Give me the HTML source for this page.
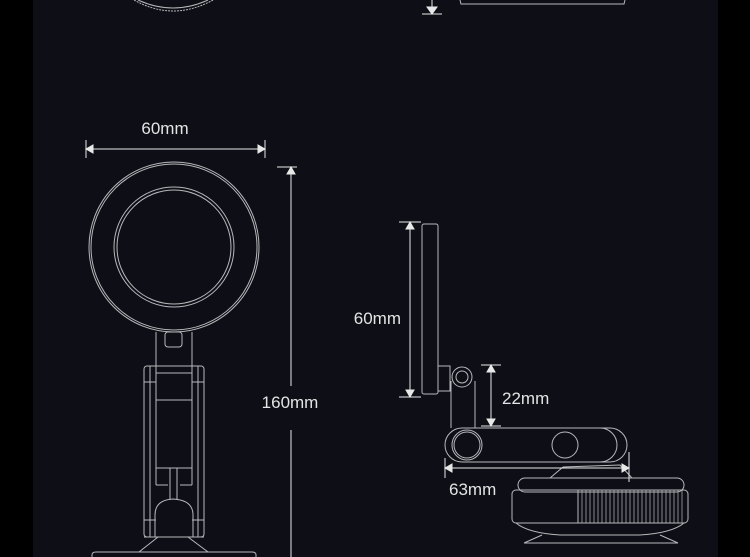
<!DOCTYPE html>
<html><head><style>
html,body{margin:0;padding:0;background:#000;}
svg{display:block;}
text{font-family:"Liberation Sans",sans-serif;font-size:17px;fill:#e4e4e4;}
</style></head><body>
<svg width="750" height="557" viewBox="0 0 750 557" xmlns="http://www.w3.org/2000/svg">
<rect width="750" height="557" fill="#000"/>
<rect x="33" y="0" width="685" height="557" fill="#0e0f16"/>
<g fill="none" stroke="#b8b8bc" stroke-width="1">
 <!-- top fragments -->
 <path d="M134 0 Q173 22 213 0" stroke-dasharray="2 1"/>
 <path d="M138 0 Q173 16 208 0"/>
 <path d="M460 0 L461 4 L624 4 L625 0"/>
 <!-- left view -->
 <circle cx="174" cy="247" r="85"/><circle cx="174" cy="247" r="83"/>
 <circle cx="174" cy="247" r="60"/><circle cx="174" cy="247" r="57"/>
 <path d="M156 332 L156 485 M192 332 L192 485"/>
 <rect x="165" y="332" width="17" height="15" rx="3"/>
 <rect x="144" y="366" width="60" height="171" rx="3"/>
 <path d="M150 366 L150 537 M198 366 L198 537 M144 382 L156 382 M192 382 L204 382"/>
 <path d="M156 373 L192 373 M156 400 L192 400 M156 468 L192 468 M156 485 L168 485 M180 485 L192 485"/>
 <path d="M144 520 L156 520 M192 520 L204 520"/>
 <path d="M170 468 L170 500 M177 468 L177 500"/>
 <path d="M155 537 L155 515 Q155 500 173 499 Q193 500 193 515 L193 537"/>
 <path d="M144 537 L204 537 M158 537 L139 552 M188 537 L208 552"/>
 <path d="M92 557 L92 555 Q92 552 96 552 L252 552 Q256 552 256 555 L256 557"/>
 <!-- right view -->
 <rect x="422" y="224" width="16" height="170" rx="2"/>
 <rect x="438" y="366" width="12" height="25"/>
 <circle cx="462" cy="377" r="10"/><circle cx="462" cy="377" r="6"/>
 <path d="M451 381 L451 428 M475 381 L475 428"/>
 <path d="M462 428 L610 428 A17 17 0 0 1 610 462 L462 462 A17 17 0 0 1 462 428 Z"/>
 <path d="M600 428 A17 17 0 0 1 600 462"/>
 <circle cx="467" cy="445" r="15"/><circle cx="467" cy="445" r="13"/>
 <circle cx="565" cy="445" r="13"/>
 <path d="M563 467 L620 465 L632 478 M563 467 L550 478"/>
 <rect x="518" y="478" width="166" height="14" rx="7"/>
 <rect x="512" y="490" width="176" height="33" rx="4"/>
 <path d="M578 490 L578 523"/>
 <g stroke-width="0.7">
  <path d="M582 490V523M586 490V523M590 490V523M594 490V523M598 490V523M602 490V523M606 490V523M610 490V523M614 490V523M618 490V523M622 490V523M626 490V523M630 490V523M634 490V523M638 490V523M642 490V523M646 490V523M650 490V523M654 490V523M658 490V523M662 490V523M666 490V523M670 490V523M674 490V523M678 490V523M682 490V523"/>
 </g>
 <path d="M516 523 L684 523 Q672 533 640 535 L560 535 Q528 533 516 523"/>
 <path d="M524 543 L542 535 M678 543 L660 535 M524 543 L678 543"/>
</g>
<!-- dimensions -->
<g stroke="#e8e8e8" stroke-width="1" fill="#e8e8e8">
 <path d="M432 0 L432 14 M422 14 L442 14" fill="none"/>
 <path d="M427 7 L437 7 L432 14 Z"/>
 <path d="M86 140 L86 158 M265 140 L265 158 M86 149 L265 149" fill="none"/>
 <path d="M86 149 L93 145 L93 153 Z"/><path d="M265 149 L258 145 L258 153 Z"/>
 <path d="M277 167 L297 167 M291 167 L291 386 M291 430 L291 557" fill="none"/>
 <path d="M291 167 L287 174 L295 174 Z"/>
 <path d="M399 222 L421 222 M399 397 L421 397 M410 222 L410 397" fill="none"/>
 <path d="M410 222 L406 229 L414 229 Z"/><path d="M410 397 L406 390 L414 390 Z"/>
 <path d="M481 365 L501 365 M481 426 L501 426 M491 365 L491 426" fill="none"/>
 <path d="M491 365 L487 372 L495 372 Z"/><path d="M491 426 L487 419 L495 419 Z"/>
 <path d="M445 458 L445 478 M629 452 L629 482 M445 468 L629 468" fill="none"/>
 <path d="M445 468 L452 464 L452 472 Z"/><path d="M629 468 L622 464 L622 472 Z"/>
</g>
<text x="165" y="134" text-anchor="middle">60mm</text>
<text x="290" y="408" text-anchor="middle">160mm</text>
<text x="401" y="324" text-anchor="end">60mm</text>
<text x="502" y="404">22mm</text>
<text x="449" y="495">63mm</text>
</svg>
</body></html>
